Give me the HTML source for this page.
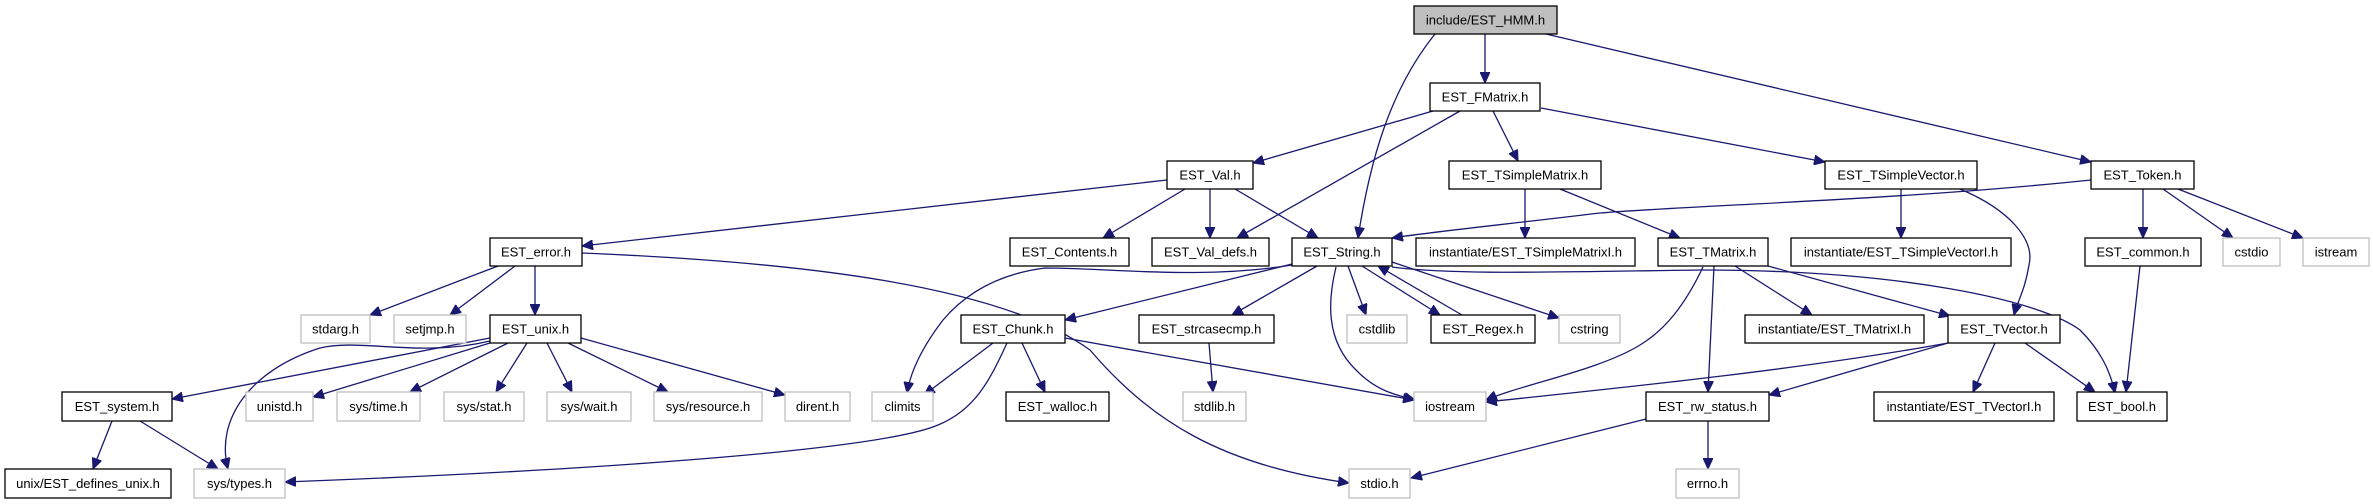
<!DOCTYPE html>
<html><head><meta charset="utf-8"><style>
html,body{margin:0;padding:0;background:#fff;}
svg{display:block;}
text{font-family:"Liberation Sans",sans-serif;font-size:13px;text-anchor:middle;fill:#000;}
.n{fill:#fff;stroke:#000;stroke-width:1.3;}
.g{fill:#fff;stroke:#bfbfbf;stroke-width:1.3;}
.e{fill:none;stroke:#191970;stroke-width:1.3;}
</style></head><body>
<svg width="2373" height="504" viewBox="0 0 2373 504" xmlns="http://www.w3.org/2000/svg">
<defs><marker id="a" markerUnits="userSpaceOnUse" markerWidth="12" markerHeight="10" refX="11" refY="5" orient="auto"><path d="M0,0 L11,5 L0,10 z" fill="#191970" stroke="#191970"/></marker></defs>
<g class="e" marker-end="url(#a)">
<path d="M1485,34 L1485,83"/>
<path d="M1435,34 C1390,90 1370,160 1358,238"/>
<path d="M1546,34 L2091,162"/>
<path d="M1433,111 L1253,163"/>
<path d="M1460,111 L1237,238"/>
<path d="M1493,111 L1518,161"/>
<path d="M1541,108 L1825,162"/>
<path d="M1167,180 L582,246"/>
<path d="M1185,189 L1103,238"/>
<path d="M1210,189 L1210,238"/>
<path d="M1235,189 L1318,238"/>
<path d="M498,266 L370,315"/>
<path d="M515,266 L450,315"/>
<path d="M535,266 L535,315"/>
<path d="M582,253 C800,262 1000,285 1090,350 C1150,420 1220,465 1349,483"/>
<path d="M490,338 L172,399"/>
<path d="M490,341 C420,358 360,338 320,348 C250,370 215,420 228,469"/>
<path d="M490,343 L313,397"/>
<path d="M508,343 L410,392"/>
<path d="M527,343 L496,392"/>
<path d="M547,343 L572,392"/>
<path d="M568,343 L668,392"/>
<path d="M581,338 L785,395"/>
<path d="M112,421 L93,469"/>
<path d="M140,421 L218,469"/>
<path d="M1292,264 L1065,320"/>
<path d="M1292,265 C1200,280 1110,268 1045,268 C990,275 960,300 943,320 C920,350 910,375 907,393"/>
<path d="M1317,266 L1232,315"/>
<path d="M1336,267 C1328,300 1325,340 1356,370 C1375,390 1395,395 1415,400"/>
<path d="M1348,266 L1366,315"/>
<path d="M1362,266 L1440,315"/>
<path d="M1462,315 L1378,266"/>
<path d="M1392,262 L1559,318"/>
<path d="M1392,267 C1450,275 1550,272 1700,270 C1900,270 2040,300 2080,330 C2100,350 2110,370 2115,393"/>
<path d="M993,343 L924,395"/>
<path d="M1022,343 L1045,392"/>
<path d="M1007,343 C990,380 975,410 938,425 C880,450 600,470 285,482"/>
<path d="M1065,338 L1414,400"/>
<path d="M1209,343 L1213,392"/>
<path d="M2091,180 C1900,200 1700,205 1600,213 C1500,225 1430,232 1392,238"/>
<path d="M2143,189 L2143,238"/>
<path d="M2163,189 L2233,238"/>
<path d="M2178,189 L2303,238"/>
<path d="M1525,189 L1525,238"/>
<path d="M1560,189 L1680,238"/>
<path d="M1901,189 L1901,238"/>
<path d="M1960,189 C2010,210 2035,240 2029,265 C2025,290 2018,300 2014,315"/>
<path d="M1735,266 L1812,315"/>
<path d="M1768,266 L1950,316"/>
<path d="M1714,266 L1708,392"/>
<path d="M1703,267 C1685,305 1665,330 1640,345 C1600,370 1520,385 1486,400"/>
<path d="M1948,343 L1769,395"/>
<path d="M1948,343 C1800,370 1600,390 1486,402"/>
<path d="M1995,343 L1973,392"/>
<path d="M2025,343 L2095,392"/>
<path d="M2140,266 L2126,392"/>
<path d="M1646,419 L1411,478"/>
<path d="M1708,421 L1708,469"/>
</g>
<g>
<rect x="1414" y="6" width="143" height="28" style="fill:#bfbfbf;stroke:#000;stroke-width:1.3"/><text x="1485.5" y="24.5">include/EST_HMM.h</text>
<rect class="n" x="1430" y="83" width="110" height="28"/><text x="1485" y="101.5">EST_FMatrix.h</text>
<rect class="n" x="1167" y="161" width="86" height="28"/><text x="1210" y="179.5">EST_Val.h</text>
<rect class="n" x="1449" y="161" width="152" height="28"/><text x="1525" y="179.5">EST_TSimpleMatrix.h</text>
<rect class="n" x="1825" y="161" width="152" height="28"/><text x="1901" y="179.5">EST_TSimpleVector.h</text>
<rect class="n" x="2091" y="161" width="103" height="28"/><text x="2142.5" y="179.5">EST_Token.h</text>
<rect class="n" x="490" y="238" width="92" height="28"/><text x="536" y="256.5">EST_error.h</text>
<rect class="n" x="1010" y="238" width="119" height="28"/><text x="1069.5" y="256.5">EST_Contents.h</text>
<rect class="n" x="1152" y="238" width="117" height="28"/><text x="1210.5" y="256.5">EST_Val_defs.h</text>
<rect class="n" x="1292" y="238" width="100" height="28"/><text x="1342" y="256.5">EST_String.h</text>
<rect class="n" x="1416" y="238" width="219" height="28"/><text x="1525.5" y="256.5">instantiate/EST_TSimpleMatrixI.h</text>
<rect class="n" x="1658" y="238" width="110" height="28"/><text x="1713" y="256.5">EST_TMatrix.h</text>
<rect class="n" x="1791" y="238" width="220" height="28"/><text x="1901" y="256.5">instantiate/EST_TSimpleVectorI.h</text>
<rect class="n" x="2085" y="238" width="116" height="28"/><text x="2143" y="256.5">EST_common.h</text>
<rect class="g" x="2223" y="238" width="57" height="28"/><text x="2251.5" y="256.5">cstdio</text>
<rect class="g" x="2303" y="238" width="66" height="28"/><text x="2336" y="256.5">istream</text>
<rect class="g" x="301" y="315" width="69" height="28"/><text x="335.5" y="333.5">stdarg.h</text>
<rect class="g" x="394" y="315" width="72" height="28"/><text x="430" y="333.5">setjmp.h</text>
<rect class="n" x="490" y="315" width="91" height="28"/><text x="535.5" y="333.5">EST_unix.h</text>
<rect class="n" x="961" y="315" width="104" height="28"/><text x="1013" y="333.5">EST_Chunk.h</text>
<rect class="n" x="1139" y="315" width="135" height="28"/><text x="1206.5" y="333.5">EST_strcasecmp.h</text>
<rect class="g" x="1347" y="315" width="60" height="28"/><text x="1377" y="333.5">cstdlib</text>
<rect class="n" x="1431" y="315" width="104" height="28"/><text x="1483" y="333.5">EST_Regex.h</text>
<rect class="g" x="1559" y="315" width="61" height="28"/><text x="1589.5" y="333.5">cstring</text>
<rect class="n" x="1745" y="315" width="179" height="28"/><text x="1834.5" y="333.5">instantiate/EST_TMatrixI.h</text>
<rect class="n" x="1948" y="315" width="112" height="28"/><text x="2004" y="333.5">EST_TVector.h</text>
<rect class="n" x="62" y="392" width="110" height="29"/><text x="117" y="411">EST_system.h</text>
<rect class="g" x="246" y="392" width="67" height="29"/><text x="279.5" y="411">unistd.h</text>
<rect class="g" x="337" y="392" width="83" height="29"/><text x="378.5" y="411">sys/time.h</text>
<rect class="g" x="444" y="392" width="80" height="29"/><text x="484" y="411">sys/stat.h</text>
<rect class="g" x="547" y="392" width="84" height="29"/><text x="589" y="411">sys/wait.h</text>
<rect class="g" x="654" y="392" width="108" height="29"/><text x="708" y="411">sys/resource.h</text>
<rect class="g" x="785" y="392" width="65" height="29"/><text x="817.5" y="411">dirent.h</text>
<rect class="g" x="872" y="392" width="61" height="29"/><text x="902.5" y="411">climits</text>
<rect class="n" x="1006" y="392" width="103" height="29"/><text x="1057.5" y="411">EST_walloc.h</text>
<rect class="g" x="1183" y="392" width="63" height="29"/><text x="1214.5" y="411">stdlib.h</text>
<rect class="g" x="1414" y="392" width="72" height="29"/><text x="1450" y="411">iostream</text>
<rect class="n" x="1646" y="392" width="123" height="29"/><text x="1707.5" y="411">EST_rw_status.h</text>
<rect class="n" x="1874" y="392" width="180" height="29"/><text x="1964" y="411">instantiate/EST_TVectorI.h</text>
<rect class="n" x="2077" y="392" width="90" height="29"/><text x="2122" y="411">EST_bool.h</text>
<rect class="n" x="5" y="469" width="166" height="29"/><text x="88" y="488">unix/EST_defines_unix.h</text>
<rect class="g" x="194" y="469" width="91" height="29"/><text x="239.5" y="488">sys/types.h</text>
<rect class="g" x="1349" y="469" width="61" height="29"/><text x="1379.5" y="488">stdio.h</text>
<rect class="g" x="1676" y="469" width="63" height="29"/><text x="1707.5" y="488">errno.h</text>
</g>
</svg>
</body></html>
